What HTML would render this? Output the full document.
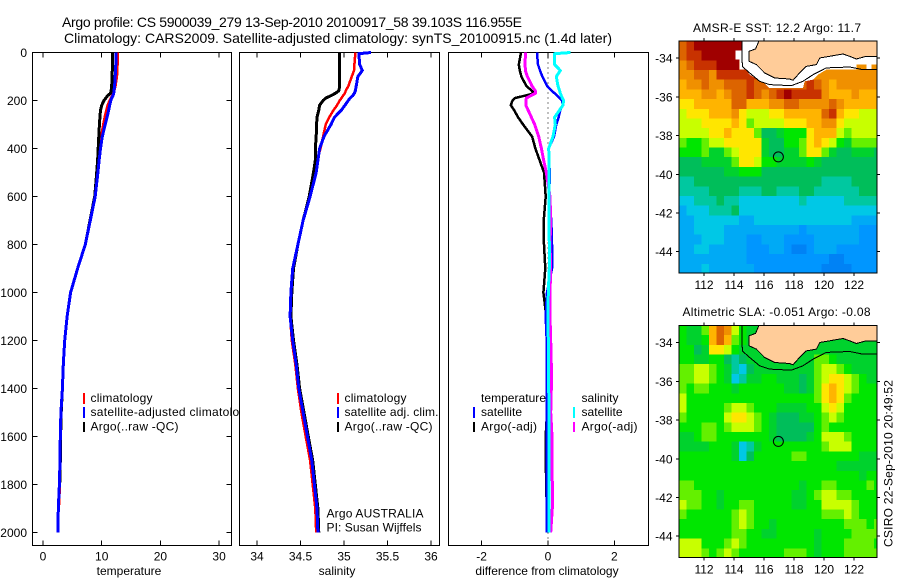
<!DOCTYPE html>
<html>
<head>
<meta charset="utf-8">
<title>Argo profile</title>
<style>
html,body{margin:0;padding:0;background:#fff;}
svg{display:block;font-family:"Liberation Sans",sans-serif;}
text{fill:#000;font-size:12px;}
.t14{font-size:14px;}
</style>
</head>
<body>
<svg id="figure" xmlns="http://www.w3.org/2000/svg" width="900" height="580" viewBox="0 0 900 580">
  <defs>
    <clipPath id="clip-legend-1"><rect x="0" y="380" width="239" height="80"/></clipPath>
    <clipPath id="clip-map-1"><rect x="679" y="41" width="198" height="232"/></clipPath>
    <clipPath id="clip-map-2"><rect x="679" y="325.5" width="198" height="232"/></clipPath>
  </defs>
  <rect width="900" height="580" fill="#fff"/>
  <text class="t14" x="62" y="27" textLength="460">Argo profile: CS 5900039_279 13-Sep-2010 20100917_58 39.103S 116.955E</text>
  <text class="t14" x="64" y="43" textLength="548">Climatology: CARS2009. Satellite-adjusted climatology: synTS_20100915.nc (1.4d later)</text>

  <g id="panel-temp"></g>
  <g id="panel-sal"></g>
  <g id="panel-diff"></g>
  <g id="map-sst"></g>
  <g id="map-sla"></g>

  <g>
    <rect x="83" y="393" width="2" height="11" fill="#f00"/>
    <rect x="83" y="407" width="2" height="11" fill="#00f"/>
    <rect x="83" y="422" width="2" height="10" fill="#000"/>
    <g clip-path="url(#clip-legend-1)">
      <text x="90.5" y="402" textLength="62">climatology</text>
      <text x="90.5" y="416" textLength="162">satellite-adjusted climatology</text>
      <text x="90.5" y="430.5" textLength="88">Argo(..raw -QC)</text>
    </g>
  </g>
  <g>
    <rect x="337" y="393" width="2" height="11" fill="#f00"/>
    <rect x="337" y="407" width="2" height="11" fill="#00f"/>
    <rect x="337" y="422" width="2" height="10" fill="#000"/>
    <text x="344.5" y="402" textLength="62">climatology</text>
    <text x="344.5" y="416" textLength="94">satellite adj. clim.</text>
    <text x="344.5" y="430.5" textLength="88">Argo(..raw -QC)</text>
    <text x="326.5" y="517.5" textLength="97">Argo AUSTRALIA</text>
    <text x="326.5" y="531.5" textLength="95">PI: Susan Wijffels</text>
  </g>
  <g>
    <rect x="473" y="407" width="2" height="11" fill="#00f"/>
    <rect x="473" y="422" width="2" height="10" fill="#000"/>
    <rect x="573" y="407" width="2" height="11" fill="#0ff"/>
    <rect x="573" y="422" width="2" height="10" fill="#f0f"/>
    <text x="481" y="402" textLength="65">temperature</text>
    <text x="481" y="416" textLength="41">satellite</text>
    <text x="481" y="430.5" textLength="56">Argo(-adj)</text>
    <text x="581.5" y="402" textLength="37">salinity</text>
    <text x="581.5" y="416" textLength="41">satellite</text>
    <text x="581.5" y="430.5" textLength="56">Argo(-adj)</text>
  </g>

  <text x="693" y="32" textLength="168">AMSR-E SST: 12.2 Argo: 11.7</text>
  <text x="682.5" y="316" textLength="188">Altimetric SLA: -0.051 Argo: -0.08</text>
  <text transform="translate(892.5,547) rotate(-90)" textLength="167">CSIRO 22-Sep-2010 20:49:52</text>
</svg>

<script>
// ---- depth profile data ----
const depths = [0,5,50,75,100,140,160,170,180,190,200,220,240,270,300,350,400,450,500,600,700,800,900,1000,1100,1200,1300,1400,1500,1600,1700,1800,1900,2000];

const tempClim = [12.7,12.7,12.65,12.6,12.55,12.3,12.1,11.95,11.8,11.6,11.4,11.05,10.85,10.55,10.3,9.95,9.7,9.5,9.3,8.9,8.05,7.2,5.9,4.7,4.1,3.7,3.45,3.3,3.1,3.0,2.95,2.85,2.65,null];
const tempSat = [12.4,12.4,12.4,12.35,12.3,12.2,12.1,12.05,11.9,11.7,11.55,11.35,11.2,10.9,10.6,10.1,9.8,9.55,9.35,8.9,8.05,7.2,5.9,4.7,4.1,3.7,3.45,3.3,3.05,2.95,2.9,2.8,2.6,2.55];
const tempArgo = [11.8,11.8,11.8,11.8,11.75,11.7,11.6,11.5,11.0,10.7,10.4,10.0,9.8,9.7,9.6,9.5,9.4,9.3,9.15,8.8,8.0,7.2,5.9,4.7,4.1,3.7,3.45,3.3,3.1,3.0,2.95,2.85,null,null];

const salClim = [35.13,35.13,35.12,35.115,35.09,35.05,35.02,35.01,34.99,34.97,34.95,34.92,34.88,34.83,34.79,34.76,34.73,34.69,34.67,34.61,34.53,34.47,34.41,34.39,34.38,34.40,34.44,34.47,34.51,34.56,34.61,34.64,34.67,34.68];
const salSat = [35.31,35.17,35.18,35.21,35.16,35.14,35.13,35.12,35.10,35.07,35.05,35.01,34.97,34.89,34.85,34.77,34.72,34.70,34.68,34.61,34.53,34.47,34.41,34.39,34.38,34.41,34.45,34.48,34.53,34.58,34.63,34.66,34.69,34.70];
const salArgo = [34.95,34.95,34.95,34.95,34.95,34.95,34.94,34.90,34.85,34.79,34.76,34.72,34.71,34.69,34.685,34.68,34.67,34.67,34.65,34.60,34.53,34.47,34.42,34.40,34.39,34.42,34.46,34.49,34.54,34.59,34.64,34.67,34.70,34.71];

const diffTempArgo = [-0.82,-0.82,-0.88,-0.85,-0.8,-0.65,-0.48,-0.42,-0.7,-1.0,-1.07,-1.12,-1.02,-0.9,-0.75,-0.48,-0.38,-0.25,-0.12,-0.07,-0.13,-0.12,-0.08,-0.14,-0.05,-0.02,-0.02,-0.03,-0.03,-0.07,-0.07,-0.05,-0.04,-0.04];
const diffTempSat = [-0.33,-0.33,-0.3,-0.24,-0.17,-0.02,0.12,0.2,0.27,0.35,0.42,0.45,0.37,0.32,0.25,0.18,0.02,0.02,0.06,0.03,0.1,0.12,0.12,-0.03,-0.07,-0.04,-0.04,-0.04,-0.04,-0.04,-0.04,-0.04,-0.04,-0.04];
const diffSalArgo = [-0.68,-0.68,-0.69,-0.68,-0.62,-0.48,-0.38,-0.38,-0.52,-0.65,-0.67,-0.67,-0.6,-0.5,-0.4,-0.28,-0.2,-0.13,-0.05,0.06,0.08,0.06,0.08,0.06,0.06,0.08,0.1,0.1,0.08,0.12,0.12,0.13,0.13,0.08];
const diffSalSat = [0.68,0.2,0.2,0.37,0.25,0.3,0.35,0.37,0.4,0.43,0.47,0.45,0.35,0.2,0.22,0.15,0.02,0.03,0.03,0.03,0.03,0.04,0.04,0.01,0.0,0.01,0.02,0.02,0.03,0.03,0.03,0.03,0.03,0.03];

// ---- tick labels ----
const depthTicks = [0,200,400,600,800,1000,1200,1400,1600,1800,2000];
const tempTicks = [0,10,20,30];
const salTicks = [34,34.5,35,35.5,36];
const diffTicks = [-2,0,2];
const lonTicks = [112,114,116,118,120,122];
const latTicks = [-34,-36,-38,-40,-42,-44];

// ---- float position ----
const floatLon = [116.955];
const floatLat = [-39.103];

// ---- coast and shelf contour ----
const coastLon = [115.66,115.44,115.0,115.0,115.49,116.04,116.71,117.71,117.93,118.26,118.82,119.49,119.71,121.26,121.71,122.15,122.82,123.53];
const coastLat = [-33.12,-33.53,-33.65,-34.17,-34.34,-34.77,-35.03,-35.08,-35.15,-34.86,-34.43,-34.34,-34.0,-33.79,-33.91,-34.05,-33.91,-33.91];
const contourLon = [114.53,114.55,115.04,115.71,116.37,117.82,118.6,119.26,120.15,121.71,122.6,123.53];
const contourLat = [-33.12,-34.43,-34.77,-35.2,-35.37,-35.43,-35.2,-34.86,-34.51,-34.46,-34.6,-34.6];
const maskLon = [114.55,114.55,114.11,114.11,114.37,114.37,114.82,115.04,115.6,116.04,116.37,118.6,118.71,119.26,119.6,120.15,122.15,122.15,122.82,122.82,123.15,123.15,123.53,123.53];
const maskLat = [-33.12,-33.62,-33.62,-34.08,-34.08,-34.6,-34.6,-34.86,-35.12,-35.32,-35.55,-35.55,-35.2,-35.12,-34.86,-34.6,-34.6,-34.34,-34.34,-34.6,-34.6,-34.34,-34.34,-33.12];

// ---- gridded map values (colour classes, half-degree cells, north to south) ----
const sstGrid = [
[13,14,15,15,15,15,15,15,15,12,12,12,12,12,12,12,12,12,12,12,12,12,12,12,12,12,12],
[13,14,14,15,15,15,15,15,15,12,12,12,12,12,12,12,12,12,12,12,12,12,12,12,12,12,12],
[12,13,14,14,14,15,15,15,14,12,12,12,12,12,12,12,12,12,12,12,12,12,12,12,12,12,12],
[12,12,13,13,12,14,14,14,14,14,14,12,12,12,12,12,12,12,12,12,12,12,12,12,12,12,12],
[11,12,12,13,12,12,13,13,13,14,13,13,13,13,13,13,13,14,13,12,11,12,12,12,12,12,12],
[11,11,11,12,12,11,12,13,13,14,13,12,13,14,15,14,14,14,14,12,11,11,11,12,11,11,11],
[10,10,11,11,11,11,11,13,13,11,11,11,12,12,13,13,12,12,12,12,13,12,11,11,11,11,11],
[9,10,10,10,11,11,11,12,10,9,9,9,10,10,11,11,11,11,11,13,14,11,10,10,9,9,9],
[9,9,9,10,10,10,10,11,10,8,9,9,9,9,10,10,10,11,11,12,12,10,9,9,9,9,9],
[9,9,9,9,10,10,11,10,10,10,8,5,5,6,7,7,7,10,11,11,11,9,8,9,9,9,9],
[8,7,7,8,9,9,10,10,10,10,10,6,5,5,7,7,8,10,11,10,9,7,6,8,8,8,8],
[7,7,7,8,6,6,8,9,10,10,10,6,5,5,6,6,8,10,10,8,6,5,5,6,6,6,5],
[5,5,5,6,6,6,6,8,10,10,9,7,7,6,6,6,6,7,6,5,5,5,5,5,5,5,5],
[5,5,5,5,5,5,6,6,7,7,7,5,5,5,5,5,5,5,5,5,5,5,5,5,5,5,5],
[4,4,5,5,5,5,5,5,5,5,5,5,5,5,5,5,5,5,5,4,4,4,4,5,5,5,5],
[4,4,4,4,5,5,5,5,4,4,4,5,5,4,4,4,5,5,4,4,4,4,4,4,5,5,5],
[3,3,4,4,4,5,4,4,3,3,3,3,3,3,3,3,4,3,3,3,3,3,4,4,4,4,4],
[2,3,3,3,4,4,4,5,3,3,3,3,3,3,3,3,3,3,3,3,3,3,3,3,3,3,3],
[2,2,3,3,3,3,3,3,2,2,3,3,3,3,3,3,3,3,3,3,3,3,3,2,2,2,2],
[2,2,3,3,3,3,2,2,2,2,2,2,2,2,2,2,1,2,2,2,2,2,2,2,1,1,1],
[2,2,2,3,3,3,2,2,2,1,1,2,2,2,1,1,1,1,2,2,2,2,2,2,1,1,1],
[2,2,3,3,2,2,2,2,2,1,1,1,2,2,1,0,0,1,2,2,2,1,1,1,1,1,1],
[2,2,2,2,2,2,2,2,2,1,1,1,1,1,1,1,1,1,1,1,0,0,1,1,1,1,1],
[2,2,2,3,2,2,2,2,2,2,1,1,1,1,1,1,1,1,1,0,0,0,0,1,1,1,1]
];
const slaGrid = [
[7,6,6,8,11,13,12,9,7,6,6,6,6,6,6,6,6,6,6,6,6,6,6,6,6,6,6],
[7,6,6,7,11,13,11,8,7,6,6,6,6,6,6,6,6,6,6,6,6,6,6,6,6,6,6],
[7,7,5,6,10,10,9,7,6,6,6,6,6,6,6,6,6,6,6,6,6,6,6,6,6,6,6],
[7,7,6,6,7,7,5,4,5,6,6,6,6,6,6,6,6,6,8,8,7,6,6,6,6,6,6],
[8,8,9,9,8,7,6,4,3,5,6,6,6,6,6,6,6,6,8,9,9,8,7,6,6,6,6],
[8,8,9,9,8,7,6,3,4,6,6,7,7,6,6,6,5,6,8,9,10,10,9,8,7,6,6],
[8,7,8,8,7,7,7,6,7,7,7,7,7,7,6,6,5,6,8,10,11,10,9,8,7,7,7],
[9,7,7,7,7,7,7,7,7,7,7,7,7,7,7,7,7,7,8,10,11,10,8,7,7,7,7],
[9,7,7,7,7,7,8,9,9,8,7,7,7,6,6,6,6,7,7,9,10,9,7,7,7,7,7],
[8,7,7,7,7,7,9,10,10,9,8,7,6,5,5,5,6,6,7,8,9,8,7,7,7,7,7],
[7,7,7,8,8,7,8,9,9,9,8,7,6,5,5,5,5,5,7,8,7,7,7,7,7,7,7],
[6,6,7,8,8,7,7,7,7,7,7,7,6,5,5,5,5,6,7,9,9,9,8,7,7,7,7],
[6,6,6,6,7,7,7,6,3,4,6,7,7,7,7,7,7,7,7,8,9,9,9,7,7,7,7],
[7,7,7,7,7,7,7,6,3,5,7,7,7,7,7,8,8,7,7,7,7,7,7,7,6,6,6],
[7,7,7,7,7,7,7,7,7,7,7,7,7,7,7,7,7,7,7,7,7,6,6,6,6,6,6],
[7,7,7,7,7,7,7,7,7,7,7,7,7,7,7,7,7,7,7,7,7,7,7,7,6,7,7],
[8,8,7,7,7,7,7,7,7,7,7,7,7,7,7,7,6,7,7,8,8,7,7,7,7,8,7],
[8,8,8,7,7,6,7,7,7,7,7,7,7,7,7,6,6,7,8,9,9,8,8,7,7,7,7],
[9,8,8,7,7,6,7,7,8,8,7,7,7,7,7,6,6,7,7,9,9,9,9,8,7,7,7],
[8,7,7,7,7,7,7,8,9,8,7,7,7,7,7,7,7,7,7,8,8,8,9,8,7,7,7],
[7,7,7,7,7,7,7,8,9,8,7,7,6,7,7,7,7,7,7,7,7,7,8,8,8,7,8],
[7,7,7,7,7,7,7,8,8,7,7,6,6,7,7,7,7,7,6,7,7,7,7,8,8,8,8],
[9,9,9,7,7,7,8,9,8,7,7,7,7,7,7,7,7,7,6,7,7,7,8,8,8,8,7],
[9,9,9,8,7,8,9,8,7,7,7,7,7,7,8,8,8,7,6,7,7,7,8,8,8,8,8]
];
const cellColors = ['#0082f5','#0096ff','#00aaf5','#00c8e6','#00c8a0','#00be5a','#00d22d','#00e600','#64f000','#c8ff00','#ffe600','#ffb400','#f09000','#dc6400','#c83200','#a00000'];

// ---- drawing ----
const NS = 'http://www.w3.org/2000/svg';
function make(parent, tag, attrs) {
  const el = document.createElementNS(NS, tag);
  for (const k in attrs) el.setAttribute(k, attrs[k]);
  parent.appendChild(el);
  return el;
}
function label(parent, str, x, y, anchor) {
  const el = make(parent, 'text', {x: x, y: y, 'text-anchor': anchor});
  el.textContent = str;
  return el;
}

const plotTop = 52.5, plotBottom = 545.5;
function depthY(z) { return 52.5 + 0.24 * z; }
function tempX(v) { return 43 + 5.87 * v; }
function salX(v) { return 257 + 87 * (v - 34); }
function diffX(v) { return 548 + 33.2 * v; }

function drawFrame(g, left, right, xFn, ticks, withDepth) {
  const box = make(g, 'rect', {x: left, y: plotTop, width: right - left, height: plotBottom - plotTop, fill: '#fff', stroke: '#000', 'stroke-width': 1, 'shape-rendering': 'crispEdges'});
  
  
  ticks.forEach(function (t) {
    const px = xFn(t);
    const a = make(g, 'line', {x1: px, x2: px, y1: plotBottom, y2: plotBottom - 5, stroke: '#000', 'shape-rendering': 'crispEdges'});
    
    
    const b = make(g, 'line', {x1: px, x2: px, y1: plotTop, y2: plotTop + 5, stroke: '#000', 'shape-rendering': 'crispEdges'});
    
    
    const tl = label(g, String(t), px, 560.5, 'middle');
    
    
  });
  if (withDepth) {
    depthTicks.forEach(function (d) {
      const py = depthY(d);
      const a = make(g, 'line', {x1: left, x2: left + 5, y1: py, y2: py, stroke: '#000', 'shape-rendering': 'crispEdges'});
      
      
      const b = make(g, 'line', {x1: right, x2: right - 5, y1: py, y2: py, stroke: '#000', 'shape-rendering': 'crispEdges'});
      
      
      const tl = label(g, String(d), 27, py + 4.5, 'end');
      
      
    });
  }
}
function drawProfile(g, values, xFn, color, width) {
  const pts = [];
  values.forEach(function (v, i) {
    if (v !== null) pts.push(xFn(v).toFixed(1) + ',' + depthY(depths[i]).toFixed(1));
  });
  const el = make(g, 'polyline', {points: pts.join(' '), fill: 'none', stroke: color, 'stroke-width': width, 'shape-rendering': 'crispEdges', 'stroke-linejoin': 'round'});
  
  
}

const gT = document.getElementById('panel-temp');
drawFrame(gT, 32.5, 231.5, tempX, tempTicks, true);
drawProfile(gT, tempClim, tempX, '#f00', 3);
drawProfile(gT, tempArgo, tempX, '#000', 3);
drawProfile(gT, tempSat, tempX, '#00f', 3);
const xlabT = label(gT, 'temperature', 129, 575, 'middle');



const gS = document.getElementById('panel-sal');
drawFrame(gS, 239.5, 439.5, salX, salTicks, false);
drawProfile(gS, salClim, salX, '#f00', 2.5);
drawProfile(gS, salArgo, salX, '#000', 3);
drawProfile(gS, salSat, salX, '#00f', 3);
const xlabS = label(gS, 'salinity', 337, 575, 'middle');



const gD = document.getElementById('panel-diff');
drawFrame(gD, 448.5, 648.5, diffX, diffTicks, false);
const zero = make(gD, 'line', {x1: diffX(0), x2: diffX(0), y1: plotTop, y2: plotBottom, stroke: '#000', 'stroke-width': 1, 'stroke-dasharray': '1 4', 'shape-rendering': 'crispEdges'});


drawProfile(gD, diffTempArgo, diffX, '#000', 2.5);
drawProfile(gD, diffTempSat, diffX, '#00f', 2.5);
drawProfile(gD, diffSalArgo, diffX, '#f0f', 3);
drawProfile(gD, diffSalSat, diffX, '#0ff', 3);
const xlabD = label(gD, 'difference from climatology', 547, 575, 'middle');



function lonX(lon) { return 679 + (lon - 110.33) * 15; }
function polyPts(lons, lats, latY) {
  return lons.map(function (lon, i) { return lonX(lon).toFixed(1) + ',' + latY(lats[i]).toFixed(1); }).join(' ');
}
function drawMap(g, grid, top, clipId, showMask, rightTicks, leftOnly) {
  const bottom = top + 232;
  function latY(lat) { return top + (-lat - 33.12) * 19.37; }
  const clip = make(g, 'g', {'clip-path': 'url(#' + clipId + ')'});
  grid.forEach(function (row, r) {
    row.forEach(function (v, c) {
      const cell = make(clip, 'rect', {
        x: lonX(110.33 + c * 0.5), y: latY(-33.12 - r * 0.5),
        width: 7.6, height: 9.8, fill: cellColors[v], 'shape-rendering': 'crispEdges'
      });
      
      
    });
  });
  if (showMask) {
    const mask = make(clip, 'polygon', {points: polyPts(maskLon, maskLat, latY), fill: '#fff', 'shape-rendering': 'crispEdges'});
    
    
  }
  const land = make(clip, 'polygon', {points: polyPts(coastLon, coastLat, latY) + ' ' + lonX(123.53) + ',' + latY(-33.12), fill: '#ffcc99', 'shape-rendering': 'crispEdges'});
  
  
  const coast = make(clip, 'polyline', {points: polyPts(coastLon, coastLat, latY), fill: 'none', stroke: '#000', 'stroke-width': 1, 'shape-rendering': 'crispEdges'});
  
  
  const shelf = make(clip, 'polyline', {points: polyPts(contourLon, contourLat, latY), fill: 'none', stroke: '#000', 'stroke-width': 1, 'shape-rendering': 'crispEdges'});
  
  
  const marker = make(clip, 'circle', {cx: lonX(floatLon[0]), cy: latY(floatLat[0]), r: 5, fill: 'none', stroke: '#000', 'stroke-width': 1});
  
  
  const frame = make(g, 'rect', {x: 679, y: top, width: 198, height: 232, fill: 'none', stroke: '#000', 'stroke-width': 1, 'shape-rendering': 'crispEdges'});
  
  
  lonTicks.forEach(function (t) {
    const px = lonX(t);
    const a = make(g, 'line', {x1: px, x2: px, y1: top, y2: top - 3, stroke: '#000', 'shape-rendering': 'crispEdges'});
    
    
    const b = make(g, 'line', {x1: px, x2: px, y1: bottom, y2: bottom + 3, stroke: '#000', 'shape-rendering': 'crispEdges'});
    
    
    const tl = label(g, String(t), px, bottom + 16, 'middle');
    
    
  });
  latTicks.forEach(function (t) {
    const py = latY(t);
    const a = make(g, 'line', {x1: 679, x2: 676, y1: py, y2: py, stroke: '#000', 'shape-rendering': 'crispEdges'});
    
    
    const b = make(g, 'line', {x1: 877, x2: 880, y1: py, y2: py, stroke: '#000', 'shape-rendering': 'crispEdges'});
    
    
    const tl = label(g, String(t), 672.5, py + 4.5, 'end');
    
    
  });
}
drawMap(document.getElementById('map-sst'), sstGrid, 41, 'clip-map-1', true);
drawMap(document.getElementById('map-sla'), slaGrid, 325.5, 'clip-map-2', false);
</script>
</body>
</html>
